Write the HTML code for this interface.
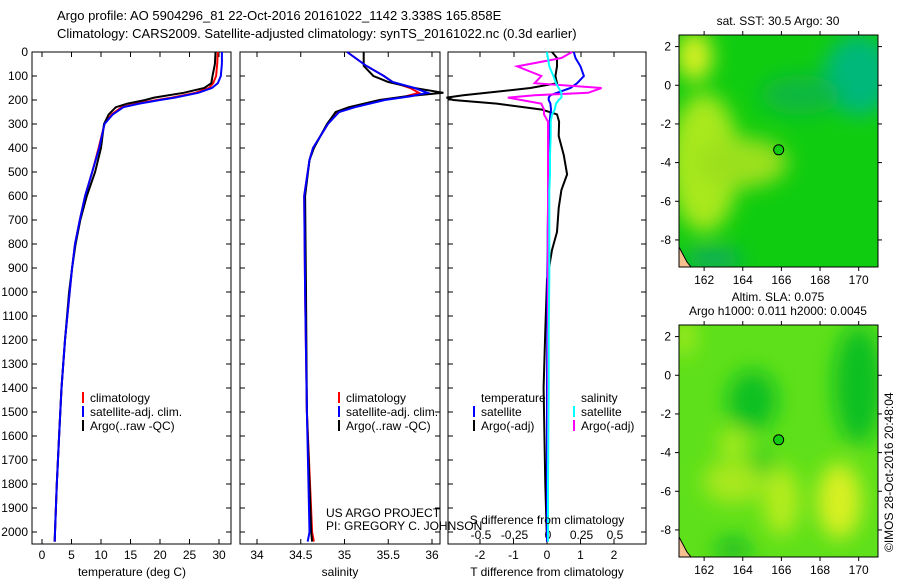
<!DOCTYPE html>
<html><head><meta charset="utf-8"><style>
body{margin:0;background:#fff;width:900px;height:580px;overflow:hidden}
svg{font-family:"Liberation Sans",sans-serif;font-size:12px}
</style></head><body>
<svg id="c" width="900" height="580">
<defs>
<filter id="bl" x="-50%" y="-50%" width="200%" height="200%"><feGaussianBlur stdDeviation="10"/></filter>
<clipPath id="cm1"><rect x="679" y="35" width="199" height="232"/></clipPath>
<clipPath id="cm2"><rect x="679" y="325" width="199" height="232"/></clipPath>
</defs>
<text x="57" y="20" font-size="13">Argo profile: AO 5904296_81 22-Oct-2016 20161022_1142 3.338S 165.858E</text>
<text x="57" y="38" font-size="13">Climatology: CARS2009. Satellite-adjusted climatology: synTS_20161022.nc (0.3d earlier)</text>
<g id="p1"></g>
<g id="p2"></g>
<g id="p3"></g>
<g id="m1"></g>
<g id="m2"></g>
<text x="326" y="517">US ARGO PROJECT</text>
<text x="326" y="530">PI: GREGORY C. JOHNSON</text>
<text transform="translate(893,552) rotate(-90)">©IMOS 28-Oct-2016 20:48:04</text>
</svg>
<script>
// ---- data ----
const depthT=[0,50,100,130,150,170,190,200,215,230,260,300,400,500,600,700,800,900,1000,1200,1400,1600,1800,2000,2040];
const tempClim=[29.8,29.7,29.5,29.0,28.3,26,22,19.5,16,13.5,11.8,10.6,9.6,8.5,7.3,6.4,5.6,5.1,4.7,3.9,3.3,2.9,2.5,2.2,2.15];
const tempSat=[30.5,30.5,30.3,29.8,28.8,26.5,22.5,20,16.5,13.8,12,10.6,9.7,8.5,7.3,6.4,5.6,5.1,4.7,3.9,3.3,2.9,2.5,2.2,2.15];
const tempArgo=[29.4,29.3,28.9,28.7,27.5,24,19,17.5,14.5,12.5,11.3,10.5,10,9.0,7.6,6.5,5.7,5.1,4.6,3.9,3.3,2.9,2.5,2.2,2.15];
const depthS=[0,58,100,125,150,170,185,200,230,250,300,400,450,600,1000,1500,2000,2040];
const salClim=[35.03,35.25,35.45,35.55,35.75,35.85,35.7,35.44,35.1,34.93,34.81,34.64,34.6,34.54,34.55,34.57,34.63,34.65];
const salSat=[35.03,35.25,35.45,35.55,35.8,35.95,35.75,35.46,35.12,34.94,34.81,34.64,34.6,34.54,34.55,34.57,34.6,34.58];
const salArgo=[35.22,35.22,35.33,35.5,35.8,36.13,35.7,35.4,35.05,34.9,34.8,34.65,34.6,34.55,34.56,34.57,34.62,34.63];
const depthD=[0,25,60,100,130,150,170,180,190,200,215,240,260,290,350,430,510,575,650,750,825,950,1160,1400,1800,2040];
const dTArgo=[0.15,0.3,0.3,0.25,0.3,-0.5,-1.8,-2.5,-3.0,-2.8,-1.5,-0.15,0.3,0.36,0.35,0.5,0.6,0.43,0.35,0.3,0.15,0.0,-0.05,-0.1,-0.05,0.0];
const dTSat=[0.8,0.85,1.0,1.1,0.9,0.7,0.3,0.1,0.05,0.05,0.1,0.12,0.1,0.08,0.06,0.05,0.04,0.03,0.03,0.02,0.02,0.01,0.01,0.0,0.0,0.0];
const dSArgo=[0.18,0.1,-0.23,-0.05,-0.1,0.4,0.3,-0.1,-0.3,-0.2,-0.05,-0.03,-0.03,0.0,0.0,0.0,0.0,0.0,0.0,0.0,0.0,0.0,0.0,0.0,0.0,0.0];
const dSSat=[-0.01,0.0,0.01,0.04,0.06,0.08,0.1,0.1,0.1,0.08,0.06,0.05,0.03,0.02,0.02,0.015,0.015,0.01,0.01,0.01,0.01,0.01,0.005,0.005,0.0,0.0];
const depthTicks=[0,100,200,300,400,500,600,700,800,900,1000,1100,1200,1300,1400,1500,1600,1700,1800,1900,2000];
const tempTicks=[0,5,10,15,20,25,30];
const salTicks=[34,34.5,35,35.5,36];
const salTickLabels=["34","34.5","35","35.5","36"];
const dTTicks=[-2,-1,0,1,2];
const dSTicks=[-0.5,-0.25,0,0.25,0.5];
const dSTickLabels=["-0.5","-0.25","0","0.25","0.5"];
const lonTicks=[162,164,166,168,170];
const latTicks=[2,0,-2,-4,-6,-8];
// ---- helpers ----
const NS="http://www.w3.org/2000/svg";
function mk(p,t,a){const e=document.createElementNS(NS,t);for(const k in a)e.setAttribute(k,a[k]);p.appendChild(e);return e;}
const yTop=52,yBot=544,dMax=2050;
const yD=d=>yTop+d*(yBot-yTop)/dMax;
function lin(v0,p0,v1,p1){return v=>p0+(v-v0)*(p1-p0)/(v1-v0);}
function frame(g,x0,x1){
  const r=mk(g,'rect',{x:x0,y:yTop,width:x1-x0,height:yBot-yTop,fill:'none',stroke:'#000','stroke-width':1});
  
  
  depthTicks.forEach(d=>{const y=yD(d);mk(g,'line',{x1:x0,x2:x0+5,y1:y,y2:y,stroke:'#000'});mk(g,'line',{x1:x1,x2:x1-5,y1:y,y2:y,stroke:'#000'});});
}
function xticks(g,ticks,labels,sx,ly,tickTop){
  ticks.forEach((v,i)=>{const x=sx(v);mk(g,'line',{x1:x,x2:x,y1:yBot,y2:yBot-5,stroke:'#000'});
    if(tickTop)mk(g,'line',{x1:x,x2:x,y1:yTop,y2:yTop+5,stroke:'#000'});
    const t=mk(g,'text',{x:x,y:ly,'text-anchor':'middle'});t.textContent=labels[i];
    
    });
}
function prof(g,vals,depths,sx,col,name,w){
  let d='';vals.forEach((v,i)=>{d+=(i?'L':'M')+sx(v).toFixed(1)+','+yD(depths[i]).toFixed(1);});
  const p=mk(g,'path',{d:d,fill:'none',stroke:col,'stroke-width':w||2});
  
  
}
function legend(g,x,y,items){
  items.forEach((it,i)=>{mk(g,'rect',{x:x,y:y+i*14-10,width:2,height:11,fill:it[1]});
    const t=mk(g,'text',{x:x+8,y:y+i*14});t.textContent=it[0];
    
    });
}
// ---- panel 1 ----
const g1=document.getElementById('p1');
const sT=lin(0,42,30,219);
frame(g1,32,231);
depthTicks.forEach(d=>{const t=mk(g1,'text',{x:28,y:yD(d)+4,'text-anchor':'end'});t.textContent=d;
  
  });
xticks(g1,tempTicks,tempTicks.map(String),sT,559,true);
prof(g1,tempClim,depthT,sT,'#f00','temp-climatology-line');
prof(g1,tempArgo,depthT,sT,'#000','temp-argo-line');
prof(g1,tempSat,depthT,sT,'#00f','temp-satellite-line');
legend(g1,82,402,[['climatology','#f00'],['satellite-adj. clim.','#00f'],['Argo(..raw -QC)','#000']]);
let t1=mk(g1,'text',{x:132,y:576,'text-anchor':'middle'});t1.textContent='temperature (deg C)';


// ---- panel 2 ----
const g2=document.getElementById('p2');
const sS=lin(34,257,36,432);
frame(g2,240,440);
xticks(g2,salTicks,salTickLabels,sS,559,true);
prof(g2,salClim,depthS,sS,'#f00','sal-climatology-line');
prof(g2,salArgo,depthS,sS,'#000','sal-argo-line');
prof(g2,salSat,depthS,sS,'#00f','sal-satellite-line');
legend(g2,338,402,[['climatology','#f00'],['satellite-adj. clim.','#00f'],['Argo(..raw -QC)','#000']]);
let t2=mk(g2,'text',{x:340,y:576,'text-anchor':'middle'});t2.textContent='salinity';


// ---- panel 3 ----
const g3=document.getElementById('p3');
const sDT=lin(-2,480,2,614), sDS=lin(-0.5,481,0.5,615);
frame(g3,448,646);
[480,514,547,581,614].forEach(x=>mk(g3,'line',{x1:x,x2:x,y1:yTop,y2:yTop+5,stroke:'#000'}));
xticks(g3,dTTicks,dTTicks.map(String),sDT,559,false);
dSTicks.forEach((v,i)=>{const t=mk(g3,'text',{x:sDS(v),y:539,'text-anchor':'middle'});t.textContent=dSTickLabels[i];
  
  });
prof(g3,dTArgo,depthD,sDT,'#000','dT-argo-line');
prof(g3,dTSat,depthD,sDT,'#00f','dT-satellite-line');
prof(g3,dSArgo,depthD,sDS,'#f0f','dS-argo-line');
prof(g3,dSSat,depthD,sDS,'#0ff','dS-satellite-line');
let lt=mk(g3,'text',{x:481,y:402});lt.textContent='temperature';


let ls=mk(g3,'text',{x:581,y:402});ls.textContent='salinity';


legend(g3,473,416,[['satellite','#00f'],['Argo(-adj)','#000']]);
legend(g3,573,416,[['satellite','#0ff'],['Argo(-adj)','#f0f']]);
let t3=mk(g3,'text',{x:547,y:524,'text-anchor':'middle'});t3.textContent='S difference from climatology';


let t4=mk(g3,'text',{x:547,y:576,'text-anchor':'middle'});t4.textContent='T difference from climatology';


// ---- maps ----
function map(id,y0,title,blobs,base,clip){
  const g=document.getElementById(id);
  const x0=679,w=199,h=232;
  const lonX=lin(160.7,x0,171,x0+w), latY=lin(2.6,y0,-9.4,y0+h);
  const inner=mk(g,'g',{'clip-path':'url(#'+clip+')'});
  mk(inner,'rect',{x:x0,y:y0,width:w,height:h,fill:base});
  const bg=mk(inner,'g',{filter:'url(#bl)'});
  blobs.forEach(b=>mk(bg,'ellipse',{cx:lonX(b[0]),cy:latY(b[1]),rx:b[2],ry:b[3],fill:b[4]}));
  mk(inner,'path',{d:`M${x0},${y0+h-20} L${x0+8},${y0+h-5} L${x0+12},${y0+h} L${x0},${y0+h}Z`,fill:'#f5c08f',stroke:'#000','stroke-width':1});
  const fr=mk(g,'rect',{x:x0,y:y0,width:w,height:h,fill:'none',stroke:'#000'});
  
  
  lonTicks.forEach(v=>{const x=lonX(v);mk(g,'line',{x1:x,x2:x,y1:y0,y2:y0-4,stroke:'#000'});mk(g,'line',{x1:x,x2:x,y1:y0+h,y2:y0+h+4,stroke:'#000'});
    const t=mk(g,'text',{x:x,y:y0+h+17,'text-anchor':'middle'});t.textContent=v;
    
    });
  latTicks.forEach(v=>{const y=latY(v);mk(g,'line',{x1:x0,x2:x0-4,y1:y,y2:y,stroke:'#000'});mk(g,'line',{x1:x0+w,x2:x0+w+4,y1:y,y2:y,stroke:'#000'});
    const t=mk(g,'text',{x:x0-8,y:y+4,'text-anchor':'end'});t.textContent=v;
    
    });
  const c=mk(g,'circle',{cx:lonX(165.858),cy:latY(-3.338),r:5,fill:'#1c1',stroke:'#000'});
  
  
  title.forEach((s,i)=>{const t=mk(g,'text',{x:778,y:y0-24+i*14-(title.length-1)*14+14,'text-anchor':'middle'});t.textContent=s;
    
    });
}
map('m1',35,['sat. SST: 30.5 Argo: 30'],[[162,-4,35,70,'#a8e81a'],[164,-4,45,25,'#9be01a'],[161.5,1.5,18,25,'#d8f020'],[170,0.5,35,40,'#00b87a'],[162.5,-9,30,10,'#10a868'],[167,-0.5,40,20,'#10b840']],'#10cc10','cm1');
map('m2',325,['Altim. SLA: 0.075','Argo h1000: 0.011 h2000: 0.0045'],[[169,-6.5,22,38,'#d8f020'],[163.5,-5.5,30,22,'#a8e81a'],[166,-6.5,18,35,'#b5ec1a'],[163.5,-3.5,14,12,'#b5ec1a'],[161,2,8,20,'#b5ec1a'],[164.5,-1.3,25,30,'#10c020'],[170,-0.5,25,60,'#10c020'],[163.5,-9,18,10,'#10b828'],[165,-4.5,10,12,'#20c820']],'#5ee01a','cm2');
</script>
</body></html>
